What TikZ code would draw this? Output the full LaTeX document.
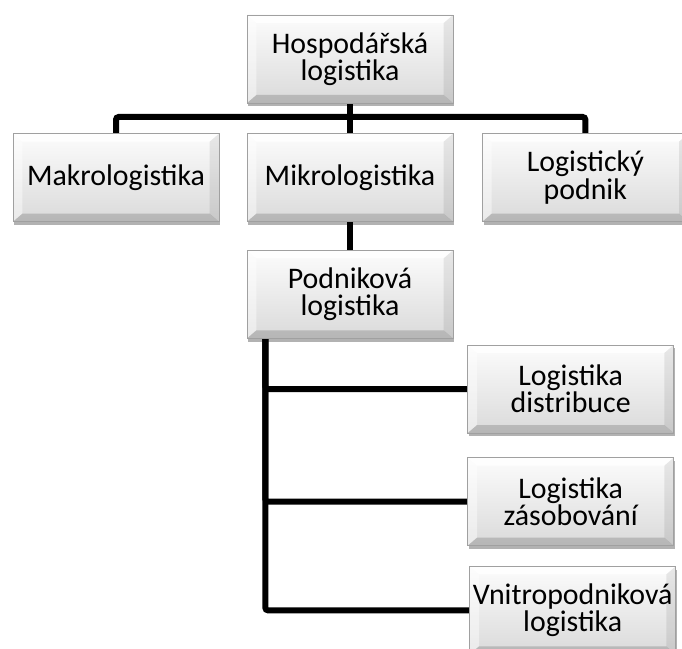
\documentclass[tikz,border=0pt]{standalone}
\usepackage{fontspec}
\setmainfont{Carlito}
\usepackage{tikz}
\usetikzlibrary{positioning, shadows, backgrounds}
\definecolor{bevtop}{RGB}{252,252,252}
\definecolor{bevface}{RGB}{218,218,218}
\definecolor{bevedge}{RGB}{160,160,160}
\tikzset{
  bevelbox/.style={rectangle, draw=bevedge, line width=0.5pt,
              top color=bevtop, bottom color=bevface,
              minimum width=154.5pt, minimum height=66pt, inner sep=0pt,
              align=center, font=\fontsize{22.4}{20.6}\selectfont,
              drop shadow={shadow xshift=1pt, shadow yshift=-2.5pt,
                           fill=black, opacity=0.3},
              path picture={
                \coordinate (nw) at (path picture bounding box.north west);
                \coordinate (ne) at (path picture bounding box.north east);
                \coordinate (sw) at (path picture bounding box.south west);
                \coordinate (se) at (path picture bounding box.south east);
                \fill[white, opacity=0.9] (nw) -- (ne) -- ([shift={(-7pt,-6pt)}]ne)
                     -- ([shift={(7pt,-6pt)}]nw) -- cycle;
                \fill[white, opacity=0.45] (nw) -- ([shift={(7pt,-6pt)}]nw)
                     -- ([shift={(7pt,6pt)}]sw) -- (sw) -- cycle;
                \fill[black, opacity=0.08] (ne) -- ([shift={(-7pt,-6pt)}]ne)
                     -- ([shift={(-7pt,6pt)}]se) -- (se) -- cycle;
                \fill[black, opacity=0.16] (sw) -- ([shift={(7pt,6pt)}]sw)
                     -- ([shift={(-7pt,6pt)}]se) -- (se) -- cycle;
              }},
  link/.style={line width=4.5pt, rounded corners=2pt, color=black},
}

\begin{document}
\begin{tikzpicture}[x=0.75pt, y=-0.75pt, node distance=21pt and 20.5pt]
    \useasboundingbox (0,0) rectangle (682,649);
    % top level
    \node[bevelbox] (hosp) at (350,59) {Hospodářská\\logistika};
    % second row
    \node[bevelbox, below=22.5pt of hosp] (mikro) {Mikrologistika};
    \node[bevelbox, left=of mikro] (makro) {Makrologistika};
    \node[bevelbox, right=21.5pt of mikro] (lpodnik) {Logistický\\podnik};
    \node[bevelbox, below=of mikro] (podnik) {Podniková\\logistika};
    % branches of the company logistics
    \node[bevelbox, below=4.5pt of podnik.south east, anchor=north west,
          xshift=10.5pt] (distr) {Logistika\\distribuce};
    \node[bevelbox, below=18pt of distr] (zasob) {Logistika\\zásobování};
    \node[bevelbox, below=15pt of zasob.south west, anchor=north west,
          xshift=1.5pt] (vnitro) {Vnitropodniková\\logistika};

    \coordinate (bar) at (350,117);
    \coordinate (trunk) at ([xshift=14pt]podnik.south west);

    \begin{scope}[on background layer]
      \draw[link] (hosp) -- (mikro);
      \draw[link] (bar) -| (makro);
      \draw[link] (bar) -| (lpodnik);
      \draw[link] (mikro) -- (podnik);
      \draw[link] (trunk) |- (distr);
      \draw[link] (trunk) |- (zasob);
      \draw[link] (trunk) |- (vnitro);
    \end{scope}
\end{tikzpicture}
\end{document}
